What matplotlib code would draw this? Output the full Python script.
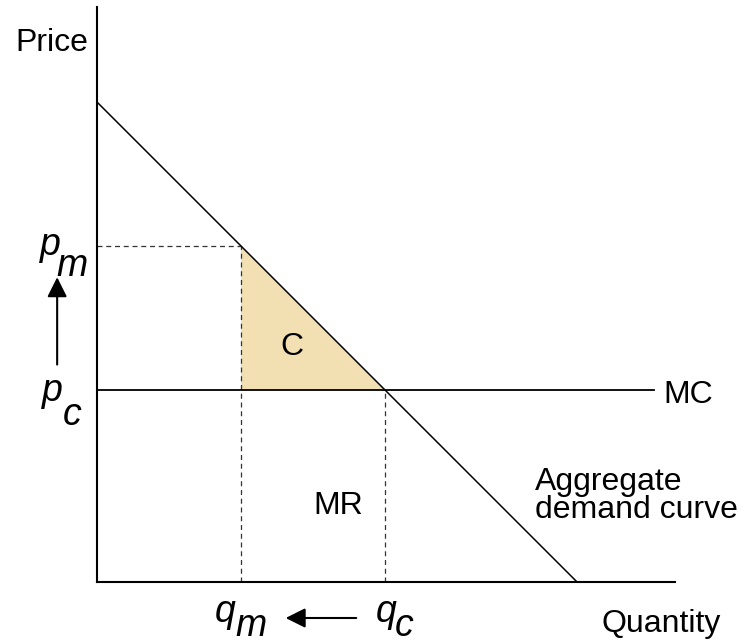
import matplotlib
matplotlib.use("Agg")
import matplotlib.pyplot as plt
from matplotlib.patches import Polygon

plt.rcParams['font.family'] = ['Liberation Sans', 'DejaVu Sans']

# Data (economic model values)
demand_q = [0, 10]
demand_p = [10, 0]
mc_price = 4
mc_q_end = 11.6
q_m, p_m = 3, 7
q_c, p_c = 6, 4
x_max, y_max = 12.04, 11.98

W, H = 740, 644
fig = plt.figure(figsize=(W / 100, H / 100), dpi=100)
ax = fig.add_axes([97 / W, 62 / H, 578 / W, 575 / H])
ax.set_xlim(0, x_max)
ax.set_ylim(0, y_max)
for s in ['top', 'right']:
    ax.spines[s].set_visible(False)
for s in ['left', 'bottom']:
    ax.spines[s].set_linewidth(1.5)
ax.set_xticks([])
ax.set_yticks([])

# Shaded triangle C
tri = Polygon([[q_m, p_c], [q_m, p_m], [q_c, p_c]], closed=True,
              facecolor='#F2E0B2', edgecolor='none', zorder=1)
ax.add_patch(tri)

# Demand curve
ax.plot(demand_q, demand_p, color='black', lw=1.1, zorder=3)
# MC line
ax.plot([0, mc_q_end], [mc_price, mc_price], color='black', lw=1.3, zorder=3)

# Dashed guide lines
dash = dict(color='#333333', lw=0.9, ls=(0, (4, 3)), zorder=2)
ax.plot([0, q_m], [p_m, p_m], **dash)
ax.plot([q_m, q_m], [0, p_m], **dash)
ax.plot([q_c, q_c], [0, p_c], **dash)

fs = 23
ifs = 27
ax.text(-1.71, 11.06, 'Price', fontsize=fs, va='baseline', ha='left', clip_on=False)
ax.text(10.5, -1.04, 'Quantity', fontsize=fs, va='baseline', ha='left', clip_on=False)
ax.text(11.79, 3.72, 'MC', fontsize=fs, va='baseline', ha='left', clip_on=False)
ax.text(9.13, 1.92, 'Aggregate', fontsize=fs, va='baseline', ha='left', clip_on=False)
ax.text(9.13, 1.34, 'demand curve', fontsize=fs, va='baseline', ha='left', clip_on=False)
ax.text(4.07, 4.9, 'C', fontsize=fs, va='center', ha='center')
ax.text(5.02, 1.59, 'MR', fontsize=fs, va='center', ha='center')

# Italic axis labels
it = dict(fontsize=ifs, style='italic', va='baseline', ha='left', clip_on=False)
ax.text(-1.18, 6.81, 'p', **it)
ax.text(-0.85, 6.37, 'm', **it)
ax.text(-1.14, 3.78, 'p', **it)
ax.text(-0.72, 3.28, 'c', **it)
ax.text(2.45, -0.83, 'q', **it)
ax.text(2.88, -1.13, 'm', **it)
ax.text(5.81, -0.83, 'q', **it)
ax.text(6.2, -1.13, 'c', **it)

# Arrows
ap = dict(arrowstyle='-|>,head_length=0.6,head_width=0.3', color='black', lw=1.5,
          mutation_scale=20, shrinkA=0, shrinkB=0)
ax.annotate('', xy=(-0.83, 6.35), xytext=(-0.83, 4.53), arrowprops=ap,
            annotation_clip=False)
ax.annotate('', xy=(3.93, -0.75), xytext=(5.40, -0.75), arrowprops=ap,
            annotation_clip=False)

fig.savefig('out.png', dpi=100)
